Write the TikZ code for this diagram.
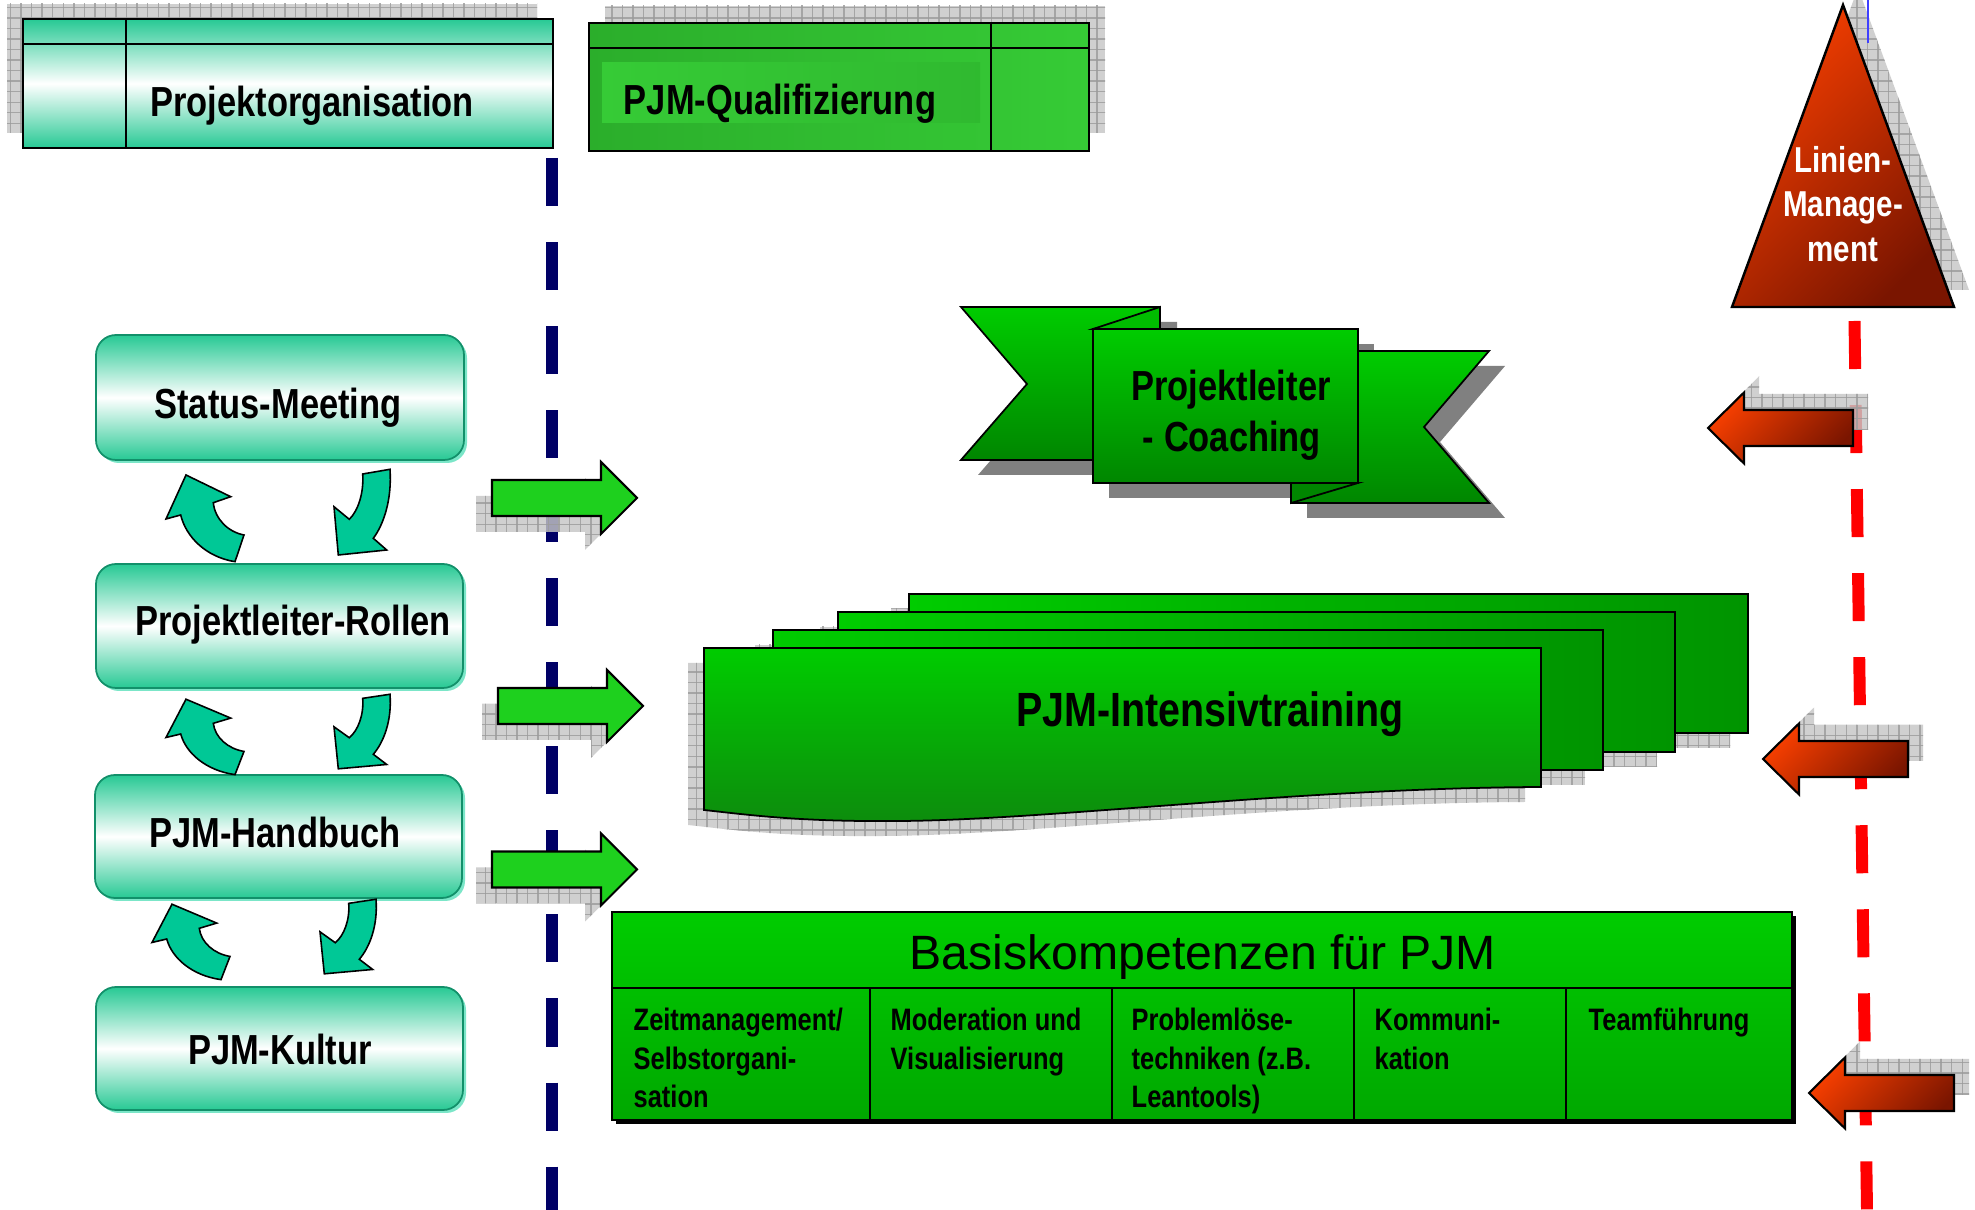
\documentclass[tikz,border=0pt]{standalone}
\usepackage{fontspec}
\setmainfont{Liberation Sans}
\newfontfamily\narrowfont{Liberation Sans}[FakeStretch=0.82]
\usetikzlibrary{patterns}

\definecolor{tealmain}{HTML}{27C994}
\definecolor{tealedge}{HTML}{12906A}
\definecolor{tealbevel}{HTML}{7BE6C8}
\definecolor{tealarrow}{HTML}{00C896}
\definecolor{qualA}{HTML}{2BAE2B}
\definecolor{qualB}{HTML}{36CB36}
\definecolor{gbright}{HTML}{00CC00}
\definecolor{gmid}{HTML}{00A800}
\definecolor{gdark}{HTML}{008600}
\definecolor{gfold}{HTML}{009A00}
\definecolor{garrow}{HTML}{1ED01E}
\definecolor{navydash}{HTML}{000066}
\definecolor{reddash}{HTML}{FF0000}
\definecolor{redA}{HTML}{F73F00}
\definecolor{redB}{HTML}{7A1500}
\definecolor{shadowfill}{HTML}{C6C6C6}
\definecolor{shadowgrid}{HTML}{9C9C9C}
\definecolor{ribbonshadow}{HTML}{808080}

\newcommand\boldnarrow[1]{\narrowfont\bfseries\fontsize{#1}{#1}\selectfont}

\tikzset{
  gridshadow/.style={preaction={fill=shadowfill, opacity=.82}, pattern=grid, pattern color=shadowgrid, opacity=.82},
  lbl/.style={inner sep=0pt, anchor=base, font=\boldnarrow{11.95pt}},
  celltext/.style={inner sep=0pt, anchor=base west, font=\boldnarrow{8.82pt}},
  roundbox/.style={draw=tealedge, line width=0.5pt, rounded corners=0.2cm, top color=tealmain, bottom color=tealmain, middle color=white},
  bevel/.style={fill=tealbevel, rounded corners=0.2cm},
  curvearrow/.style={fill=tealarrow, draw=black, line width=0.45pt},
  greenarrow/.style={fill=garrow, draw=black, line width=0.6pt},
  redarrow/.style={draw=black, line width=0.6pt, top color=redA, bottom color=redB, shading angle=45},
  ribbon/.style={draw=black, line width=0.5pt, top color=gbright, bottom color=gdark},
  page/.style={draw=black, line width=0.5pt, left color=gbright, right color=gmid!88!black},
}

% pair of curved cycle arrows between two stacked boxes
\newcommand\cyclepair[3]{%
  \begin{scope}[shift={(#1,#2)}, yscale=#3]
    \draw[curvearrow] (0,50) -- (20,6) -- (64.7,27.7) -- (47.3,33.7)
      .. controls (49,50) and (62,63) .. (78,66) -- (69,92.7)
      .. controls (40,88) and (20,68) .. (14.7,46) -- cycle;
    \draw[curvearrow] (196.7,5) -- (224,0.3)
      .. controls (226,30) and (218,55) .. (207.3,69.3) -- (220.7,81)
      -- (172.3,86) -- (168,37.7) -- (183.3,50.3)
      .. controls (192,42) and (198,24) .. (196.7,5) -- cycle;
  \end{scope}}

% right-pointing block arrow with its shadow, origin at the left end of the shaft
\newcommand\rightblock[2]{%
  \begin{scope}[shift={(#1,#2)}]
    \path[gridshadow] (-16,-2) -- (93,-2) -- (93,-20) -- (129,16) -- (93,52) -- (93,34) -- (-16,34) -- cycle;
    \draw[greenarrow] (0,-18) -- (109,-18) -- (109,-36) -- (145,0) -- (109,36) -- (109,18) -- (0,18) -- cycle;
  \end{scope}}

% left-pointing block arrow with its shadow, origin at the tip
\newcommand\leftblock[2]{%
  \begin{scope}[shift={(#1,#2)}]
    \path[gridshadow] (15,-16) -- (51,-51.5) -- (51,-34) -- (160,-34) -- (160,2) -- (51,2) -- (51,19.5) -- cycle;
    \draw[redarrow] (0,0) -- (36,-35.5) -- (36,-18) -- (145,-18) -- (145,18) -- (36,18) -- (36,35.5) -- cycle;
  \end{scope}}

\begin{document}
\begin{tikzpicture}[x=0.01cm,y=-0.01cm]
\useasboundingbox[fill=white] (0,0) rectangle (1975,1210);

% dashed separator lines
\draw[navydash, line width=3.2pt, dash pattern=on 13.66pt off 10.24pt] (552,158) -- (552,1210);
\draw[reddash, line width=3.4pt, dash pattern=on 13.66pt off 10.24pt] (1854.5,321) -- (1867,1210);

% header: Projektorganisation
\path[gridshadow] (7,4) rectangle (537,133);
\draw[line width=0.8pt, top color=tealmain, bottom color=tealmain, middle color=white] (23,19) rectangle (553,148);
\draw[line width=0.8pt] (23,44) -- (553,44) (126,19) -- (126,148);
\node[lbl] (porg) at (312,117) {Projektorganisation};

% header: PJM-Qualifizierung
\path[gridshadow] (605,6) rectangle (1105,133);
\draw[line width=0.8pt, left color=qualA, right color=qualB] (589,23) rectangle (1089,151);
\fill[left color=qualB, right color=qualA!60!qualB] (602,63) rectangle (980,123);
\draw[line width=0.8pt] (589,48) -- (1089,48) (991,23) -- (991,151);
\node[lbl] (pqual) at (780,115) {PJM-Qualifizierung};

% line management triangle
\path[gridshadow] (1858,-12) -- (1969,290) -- (1747,290) -- cycle;
\draw[blue!75!white, line width=0.6pt] (1868,0) -- (1868,43);
\draw[line width=0.7pt, top color=redA, bottom color=redB, shading angle=45] (1843,5) -- (1954,307) -- (1732,307) -- cycle;
\node[lbl, white, font=\boldnarrow{10.24pt}] (lm1) at (1843,173) {Linien-};
\node[lbl, white, font=\boldnarrow{10.24pt}] (lm2) at (1843,217) {Manage-};
\node[lbl, white, font=\boldnarrow{10.24pt}] (lm3) at (1843,262) {ment};

% project organisation stack
\fill[bevel] (99,338) rectangle (467,463);
\draw[roundbox] (96,335) rectangle (464,460);
\node[lbl] (sm) at (278,419) {Status-Meeting};

\fill[bevel] (99,567) rectangle (466,691);
\draw[roundbox] (96,564) rectangle (463,688);
\node[lbl] (plr) at (293,636) {Projektleiter-Rollen};

\fill[bevel] (98,778) rectangle (465,901);
\draw[roundbox] (95,775) rectangle (462,898);
\node[lbl] (hb) at (275,848) {PJM-Handbuch};

\fill[bevel] (99,990) rectangle (466,1113);
\draw[roundbox] (96,987) rectangle (463,1110);
\node[lbl] (ku) at (280,1065) {PJM-Kultur};

\cyclepair{166}{469}{1}
\cyclepair{166}{694}{0.87}
\cyclepair{152}{899}{0.87}

% transfer arrows across the dashed line
\rightblock{492}{498}
\rightblock{498}{706}
\rightblock{492}{869.5}

% coaching ribbon
\fill[ribbonshadow] (978,322) -- (1177,322) -- (1177,475) -- (978,475) -- (1044,399) -- cycle;
\fill[ribbonshadow] (1109,344) rectangle (1374,498);
\fill[ribbonshadow] (1307,366) -- (1505,366) -- (1440,442) -- (1505,518) -- (1307,518) -- cycle;
\draw[ribbon] (961,307) -- (1160,307) -- (1160,460) -- (961,460) -- (1027,384) -- cycle;
\draw[ribbon] (1291,351) -- (1489,351) -- (1424,427) -- (1489,503) -- (1291,503) -- cycle;
\draw[ribbon] (1093,329) rectangle (1358,483);
\draw[line width=0.5pt, fill=gbright!92!black] (1093,329) -- (1160,307) -- (1160,329) -- cycle;
\draw[line width=0.5pt, fill=gdark] (1291,483) -- (1358,483) -- (1291,503) -- cycle;
\node[lbl] (co1) at (1231,401) {Projektleiter};
\node[lbl] (co2) at (1232,452) {- Coaching};

% stacked training pages
\path[gridshadow] (891,609) rectangle (1730,748);
\draw[page] (909,594) rectangle (1748,733);
\path[gridshadow] (820,627) rectangle (1657,767);
\draw[page] (838,612) rectangle (1675,752);
\path[gridshadow] (755,645) rectangle (1585,785);
\draw[page] (773,630) rectangle (1603,770);
\path[gridshadow] (688,663) -- (1525,663) -- (1525,802)
  .. controls (1284,803) and (1034,835) .. (884,836)
  .. controls (784,837) and (734,830) .. (688,825) -- cycle;
\draw[line width=0.5pt, top color=gbright, bottom color=gdark!95!white] (704,648) -- (1541,648) -- (1541,787)
  .. controls (1300,788) and (1050,820) .. (900,821)
  .. controls (800,822) and (750,815) .. (704,810) -- cycle;
\node[lbl, font=\boldnarrow{13.66pt}] (intens) at (1210,727) {PJM-Intensivtraining};

% basic competences table
\fill[black] (616,916) rectangle (1796,1124);
\draw[line width=0.8pt, top color=gbright, bottom color=gmid] (612,912) rectangle (1792,1120);
\draw[line width=0.8pt] (612,988) -- (1792,988)
  (870,988) -- (870,1120) (1112,988) -- (1112,1120)
  (1354,988) -- (1354,1120) (1566,988) -- (1566,1120);
\node[inner sep=0pt, anchor=base, font=\fontsize{13.7pt}{14pt}\selectfont] (basis) at (1203,970) {Basiskompetenzen für PJM};

\node[celltext] (z1) at (633,1031) {Zeitmanagement/};
\node[celltext] (z2) at (633,1069.5) {Selbstorgani-};
\node[celltext] (z3) at (633,1108) {sation};
\node[celltext] (m1) at (890,1031) {Moderation und};
\node[celltext] (m2) at (890,1069.5) {Visualisierung};
\node[celltext] (p1) at (1131,1031) {Problemlöse-};
\node[celltext] (p2) at (1131,1069.5) {techniken (z.B.};
\node[celltext] (p3) at (1131,1108) {Leantools)};
\node[celltext] (k1) at (1374,1031) {Kommuni-};
\node[celltext] (k2) at (1374,1069.5) {kation};
\node[celltext] (t1) at (1588,1031) {Teamführung};

% line management influence arrows
\leftblock{1708}{428}
\leftblock{1763}{759}
\leftblock{1809}{1093}

\end{tikzpicture}
\end{document}
